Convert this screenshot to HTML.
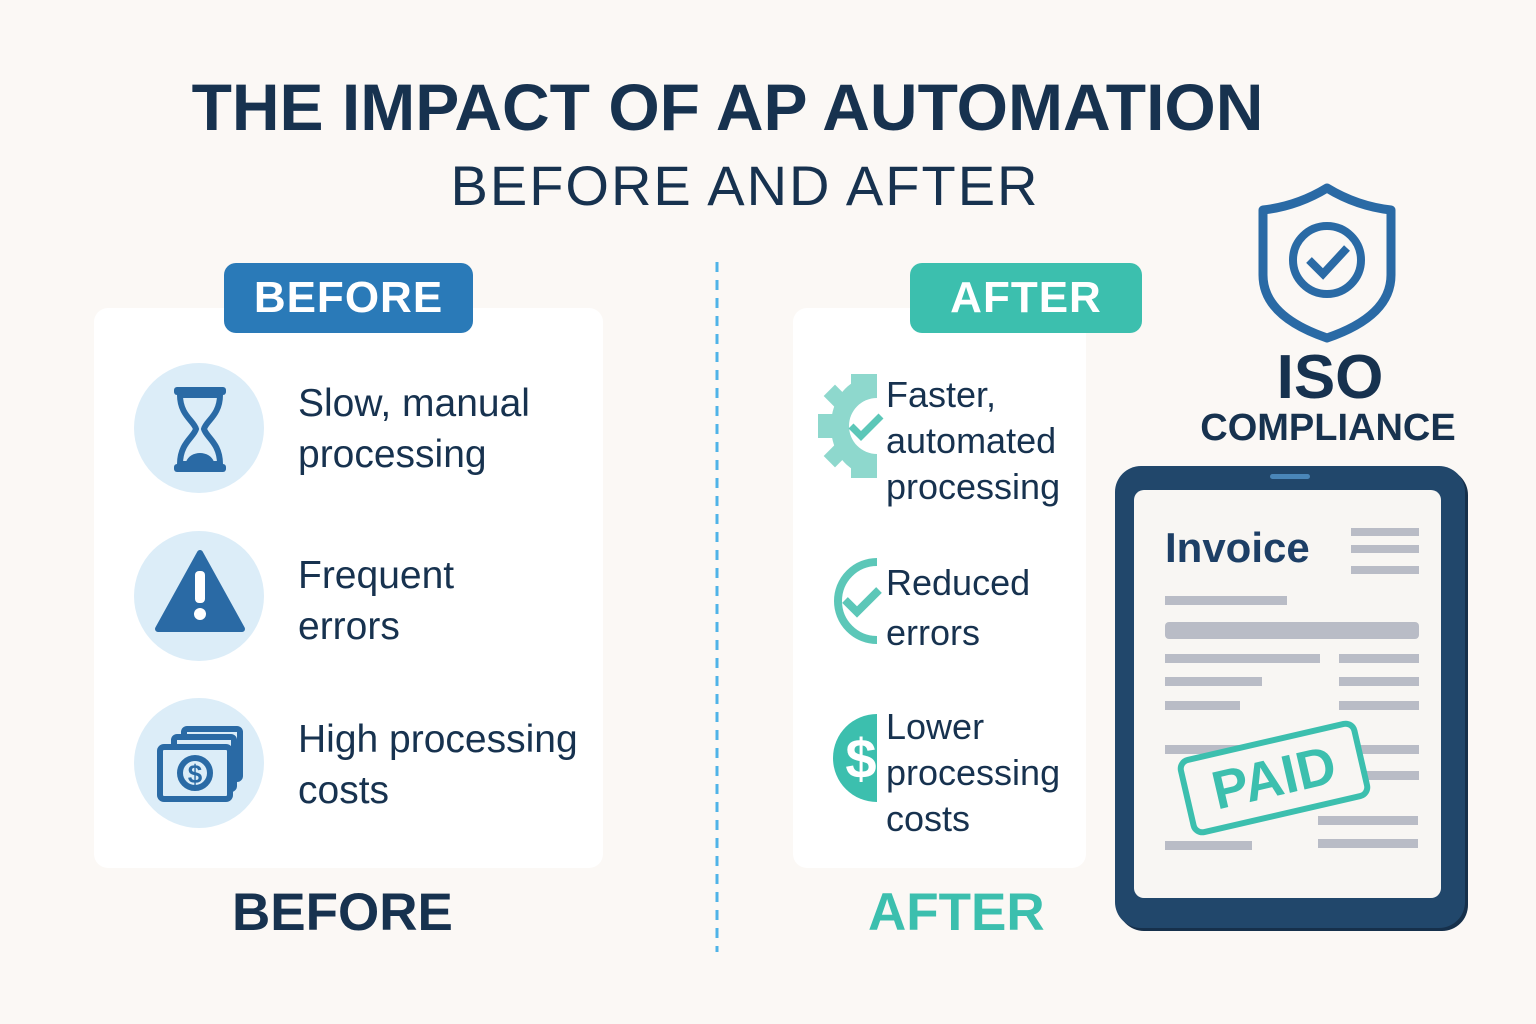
<!DOCTYPE html>
<html><head><meta charset="utf-8"><style>
body{margin:0;width:1536px;height:1024px;background:#fbf8f5;position:relative;overflow:hidden;font-family:"Liberation Sans",sans-serif;color:#17324f}
.a{position:absolute}
.card{position:absolute;background:#fff;border-radius:14px}
.badge{position:absolute;color:#fff;font-weight:bold;font-size:44px;text-align:center;border-radius:12px;line-height:70px;letter-spacing:1px}
.t{position:absolute;font-size:39px;line-height:51px;color:#17324f}
.t2{position:absolute;font-size:36px;line-height:46px;color:#17324f}
.circ{position:absolute;width:130px;height:130px;border-radius:50%;background:#dcedf8}
.bar{position:absolute;background:#b9bcc6;height:10px}
</style></head><body>
<div class="a" style="left:0;width:1455px;top:69px;text-align:center;font-size:66px;font-weight:bold">THE IMPACT OF AP AUTOMATION</div>
<div class="a" style="left:0;width:1490px;top:153px;text-align:center;font-size:56px;letter-spacing:2px">BEFORE AND AFTER</div>

<svg class="a" style="left:712px;top:262px" width="10" height="690"><line x1="5" y1="0" x2="5" y2="690" stroke="#4fb3e8" stroke-width="3" stroke-dasharray="10 8"/></svg>

<div class="card" style="left:94px;top:308px;width:509px;height:560px"></div>
<div class="badge" style="left:224px;top:263px;width:249px;background:#2a7ab8">BEFORE</div>
<div class="circ" style="left:134px;top:363px"></div>
<div class="circ" style="left:134px;top:531px"></div>
<div class="circ" style="left:134px;top:698px"></div>
<svg class="a" style="left:134px;top:363px" width="130" height="470">
<g fill="#2a6aa5"><rect x="40" y="24" width="52" height="8" rx="3"/><rect x="40" y="101" width="52" height="8" rx="3"/>
<path d="M46 32h40c0 20-14 26-16 34 2 8 16 14 16 35H46c0-21 14-27 16-35-2-8-16-14-16-34z" fill="none" stroke="#2a6aa5" stroke-width="6"/>
<path d="M52 99c4-12 24-12 28 0z"/>
<path d="M66 190 L108 266 H24 Z" stroke="#2a6aa5" stroke-width="6" stroke-linejoin="round"/></g>
<rect x="61" y="208" width="10" height="32" rx="4" fill="#fff"/><circle cx="66" cy="251" r="6" fill="#fff"/>
<g fill="none" stroke="#2a6aa5" stroke-width="6"><rect x="50" y="366" width="56" height="50" rx="3"/><rect x="40" y="374" width="60" height="52" rx="3" fill="#dcedf8"/><rect x="26" y="384" width="70" height="52" rx="4" fill="#dcedf8"/><circle cx="61" cy="410" r="15"/></g>
<text x="61" y="420" font-size="26" font-weight="bold" fill="#2a6aa5" text-anchor="middle" font-family="Liberation Sans">$</text>
</svg>
<div class="t" style="left:298px;top:378px">Slow, manual<br>processing</div>
<div class="t" style="left:298px;top:550px">Frequent<br>errors</div>
<div class="t" style="left:298px;top:714px">High processing<br>costs</div>
<div class="a" style="left:232px;top:882px;font-size:53px;font-weight:bold">BEFORE</div>

<div class="card" style="left:793px;top:308px;width:293px;height:560px"></div>
<div class="badge" style="left:910px;top:263px;width:232px;background:#3cbfae">AFTER</div>
<svg class="a" style="left:815px;top:374px" width="70" height="440">
<g fill="#8ed8cd"><path d="M62 2v100c-28 0-46-22-46-50S34 2 62 2z"/><rect x="3" y="40" width="16" height="24"/><rect x="12" y="14" width="16" height="16" transform="rotate(45 20 22)"/><rect x="12" y="74" width="16" height="16" transform="rotate(45 20 82)"/><rect x="36" y="0" width="26" height="12"/><rect x="36" y="92" width="26" height="12"/></g>
<circle cx="62" cy="52" r="28" fill="#fff"/>
<path d="M36 52l10 10 20-20" fill="none" stroke="#5cc7b8" stroke-width="7"/>
<path d="M62 188a38 38 0 1 0 0 78" fill="none" stroke="#5cc7b8" stroke-width="8"/>
<path d="M30 226l12 12 22-22" fill="none" stroke="#5cc7b8" stroke-width="8"/>
<path d="M62 340a44 44 0 1 0 0 88z" fill="#3cbfae"/>
<text x="46" y="404" font-size="56" font-weight="bold" fill="#fff" text-anchor="middle" font-family="Liberation Sans">$</text>
</svg>
<div class="t2" style="left:886px;top:372px">Faster,<br>automated<br>processing</div>
<div class="t2" style="left:886px;top:558px;line-height:50px">Reduced<br>errors</div>
<div class="t2" style="left:886px;top:704px">Lower<br>processing<br>costs</div>
<div class="a" style="left:868px;top:882px;font-size:53px;font-weight:bold;color:#3cbfae">AFTER</div>

<svg class="a" style="left:1255px;top:180px" width="145" height="165">
<path d="M72 8 C95 22 118 28 136 30 V95 C136 125 110 145 72 158 C34 145 8 125 8 95 V30 C26 28 49 22 72 8z" fill="none" stroke="#2a6aa5" stroke-width="9" stroke-linejoin="round"/>
<circle cx="72" cy="80" r="34" fill="none" stroke="#2a6aa5" stroke-width="8"/>
<path d="M54 80l14 14 24-26" fill="none" stroke="#2a6aa5" stroke-width="8"/>
</svg>
<div class="a" style="left:1197px;width:266px;top:342px;text-align:center;font-size:62px;font-weight:bold">ISO</div>
<div class="a" style="left:1190px;width:276px;top:407px;text-align:center;font-size:38px;font-weight:bold">COMPLIANCE</div>

<div class="a" style="left:1115px;top:466px;width:350px;height:462px;background:#21476b;border-radius:26px;box-shadow:3px 3px 0 #16304b"></div>
<div class="a" style="left:1270px;top:474px;width:40px;height:5px;border-radius:3px;background:#4a86b8"></div>
<div class="a" style="left:1134px;top:490px;width:307px;height:408px;background:#f8f6f3;border-radius:10px"></div>
<div class="a" style="left:1165px;top:524px;font-size:42px;font-weight:bold;color:#1d3f66">Invoice</div>
<div class="bar" style="left:1351px;top:528px;width:68px;height:8px"></div>
<div class="bar" style="left:1351px;top:545px;width:68px;height:8px"></div>
<div class="bar" style="left:1351px;top:566px;width:68px;height:8px"></div>
<div class="bar" style="left:1165px;top:596px;width:122px;height:9px"></div>
<div class="bar" style="left:1165px;top:622px;width:254px;height:17px;border-radius:4px"></div>
<div class="bar" style="left:1165px;top:654px;width:155px;height:9px"></div>
<div class="bar" style="left:1339px;top:654px;width:80px;height:9px"></div>
<div class="bar" style="left:1165px;top:677px;width:97px;height:9px"></div>
<div class="bar" style="left:1339px;top:677px;width:80px;height:9px"></div>
<div class="bar" style="left:1165px;top:701px;width:75px;height:9px"></div>
<div class="bar" style="left:1339px;top:701px;width:80px;height:9px"></div>
<div class="bar" style="left:1165px;top:745px;width:254px;height:9px"></div>
<div class="bar" style="left:1339px;top:771px;width:80px;height:9px"></div>
<div class="bar" style="left:1318px;top:816px;width:100px;height:9px"></div>
<div class="bar" style="left:1165px;top:841px;width:87px;height:9px"></div>
<div class="bar" style="left:1318px;top:839px;width:100px;height:9px"></div>
<div class="a" style="left:1182px;top:738px;width:172px;height:68px;border:6px solid #3cbfae;border-radius:12px;background:#f8f6f3;transform:rotate(-13deg);transform-origin:center;text-align:center;line-height:68px;font-size:54px;font-weight:bold;color:#3cbfae">PAID</div>
</body></html>
